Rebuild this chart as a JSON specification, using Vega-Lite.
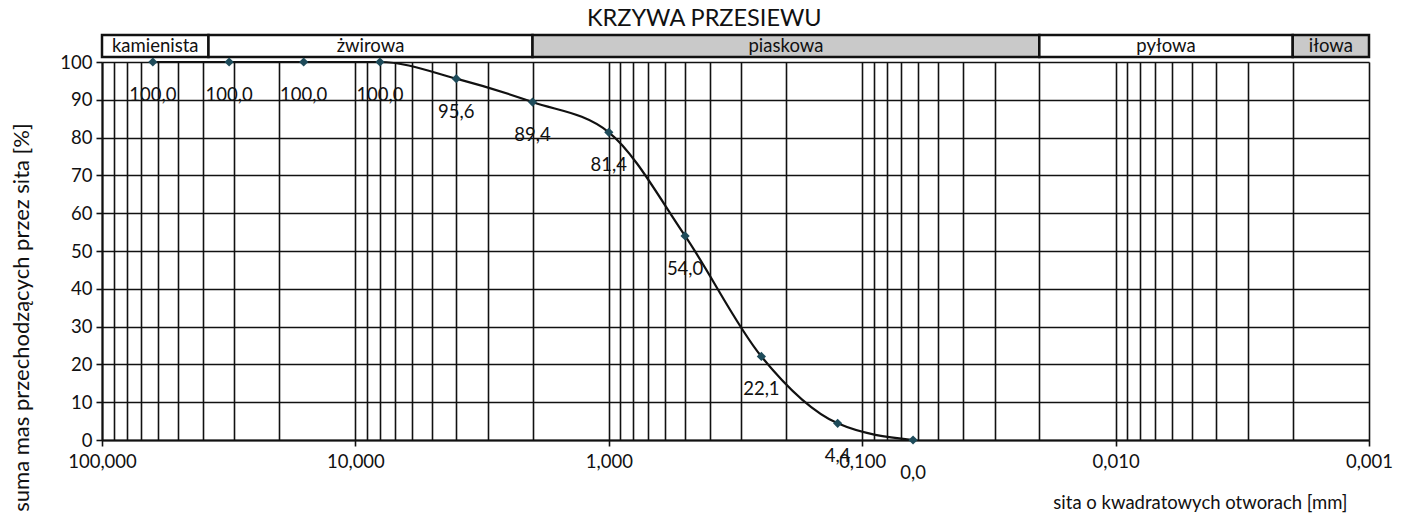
{
  "$schema": "https://vega.github.io/schema/vega-lite/v6.json",
  "padding": {"left": 9, "top": 7, "right": 5, "bottom": 2},
  "background": "white",
  "config": {
    "locale": {"number": {"decimal": ",", "thousands": " ", "grouping": [3], "currency": ["", " zł"]}},
    "font": "Lato",
    "view": {"stroke": null}
  },
  "title": {"text": "KRZYWA PRZESIEWU", "fontSize": 23.5, "fontWeight": "normal", "font": "Lato", "color": "#111", "anchor": "middle", "dx": 3, "offset": 3},
  "bounds": "flush",
  "spacing": 5,
  "resolve": {"scale": {"x": "independent"}},
  "vconcat": [
    {
      "width": 1267,
      "height": 22,
      "data": {"values": [
        {"frakcja": "kamienista", "od": 100, "do": 38, "typ": "w"},
        {"frakcja": "żwirowa", "od": 38, "do": 2, "typ": "w"},
        {"frakcja": "piaskowa", "od": 2, "do": 0.02, "typ": "g"},
        {"frakcja": "pyłowa", "od": 0.02, "do": 0.002, "typ": "w"},
        {"frakcja": "iłowa", "od": 0.002, "do": 0.001, "typ": "g"}
      ]},
      "transform": [{"calculate": "sqrt(datum.od*datum.do)", "as": "srodek"}],
      "layer": [
        {
          "mark": {"type": "rect", "stroke": "#111", "strokeWidth": 2.5},
          "encoding": {
            "x": {"field": "od", "type": "quantitative", "scale": {"type": "log", "domain": [0.001, 100], "reverse": true, "nice": false}, "axis": null},
            "x2": {"field": "do"},
            "fill": {"field": "typ", "type": "nominal", "scale": {"domain": ["w", "g"], "range": ["#ffffff", "#c9c9c9"]}, "legend": null}
          }
        },
        {
          "mark": {"type": "text", "fontSize": 18.5, "color": "#111", "baseline": "middle"},
          "encoding": {
            "x": {"field": "srodek", "type": "quantitative", "scale": {"type": "log", "domain": [0.001, 100], "reverse": true, "nice": false}, "axis": null},
            "text": {"field": "frakcja"}
          }
        }
      ]
    },
    {
      "width": 1267,
      "height": 378,
      "data": {"values": [
        {"sito": 63, "przechodzi": 100.0},
        {"sito": 31.5, "przechodzi": 100.0},
        {"sito": 16, "przechodzi": 100.0},
        {"sito": 8, "przechodzi": 100.0},
        {"sito": 4, "przechodzi": 95.6},
        {"sito": 2, "przechodzi": 89.4},
        {"sito": 1, "przechodzi": 81.4},
        {"sito": 0.5, "przechodzi": 54.0},
        {"sito": 0.25, "przechodzi": 22.1},
        {"sito": 0.125, "przechodzi": 4.4},
        {"sito": 0.063, "przechodzi": 0.0}
      ]},
      "encoding": {
        "x": {
          "field": "sito", "type": "quantitative",
          "scale": {"type": "log", "domain": [0.001, 100], "reverse": true, "nice": false},
          "axis": {
            "values": [100, 90, 80, 70, 60, 50, 40, 30, 20, 10, 9, 8, 7, 6, 5, 4, 3, 2, 1, 0.9, 0.8, 0.7, 0.6, 0.5, 0.4, 0.3, 0.2, 0.1, 0.09, 0.08, 0.07, 0.06, 0.05, 0.04, 0.03, 0.02, 0.01, 0.009, 0.008, 0.007, 0.006, 0.005, 0.004, 0.003, 0.002, 0.001],
            "format": ".3f",
            "labelExpr": "abs(log(datum.value)/LN10 - round(log(datum.value)/LN10)) < 0.001 ? datum.label : ''",
            "tickOpacity": {"condition": {"test": "abs(log(datum.value)/LN10 - round(log(datum.value)/LN10)) < 0.001", "value": 1}, "value": 0},
            "grid": true, "gridColor": "#111", "gridWidth": 1.6, "gridOpacity": 1,
            "domainColor": "#111", "domainWidth": 2,
            "tickColor": "#111", "tickSize": 6, "tickWidth": 1.6,
            "labelFontSize": 18.5, "labelColor": "#111", "labelPadding": 6, "labelFlush": false, "labelOverlap": false,
            "title": "sita o kwadratowych otworach [mm]", "titleFontSize": 18.5, "titleFontWeight": "normal", "titleColor": "#111",
            "titleAlign": "right", "titleX": 1245, "titleY": 68, "titleBaseline": "alphabetic"
          }
        },
        "y": {
          "field": "przechodzi", "type": "quantitative",
          "scale": {"domain": [0, 100], "nice": false},
          "axis": {
            "values": [0, 10, 20, 30, 40, 50, 60, 70, 80, 90, 100],
            "grid": true, "gridColor": "#111", "gridWidth": 1.6, "gridOpacity": 1,
            "domainColor": "#111", "domainWidth": 2,
            "tickColor": "#111", "tickSize": 6, "tickWidth": 1.6,
            "labelFontSize": 18.5, "labelColor": "#111", "labelPadding": 4,
            "title": "suma mas przechodzących przez sita [%]", "titleFontSize": 22, "titleFontWeight": "normal", "titleColor": "#111",
            "titleX": -74, "titleY": 255, "titleAlign": "center", "titleBaseline": "alphabetic"
          }
        }
      },
      "layer": [
        {"mark": {"type": "line", "interpolate": "monotone", "color": "#111", "strokeWidth": 2.2}},
        {"mark": {"type": "point", "shape": "diamond", "filled": true, "size": 85, "color": "#1e4b5a", "opacity": 1}},
        {
          "mark": {"type": "text", "dy": 33, "fontSize": 18.5, "color": "#111"},
          "encoding": {"text": {"field": "przechodzi", "type": "quantitative", "format": ".1f"}}
        }
      ]
    }
  ]
}
